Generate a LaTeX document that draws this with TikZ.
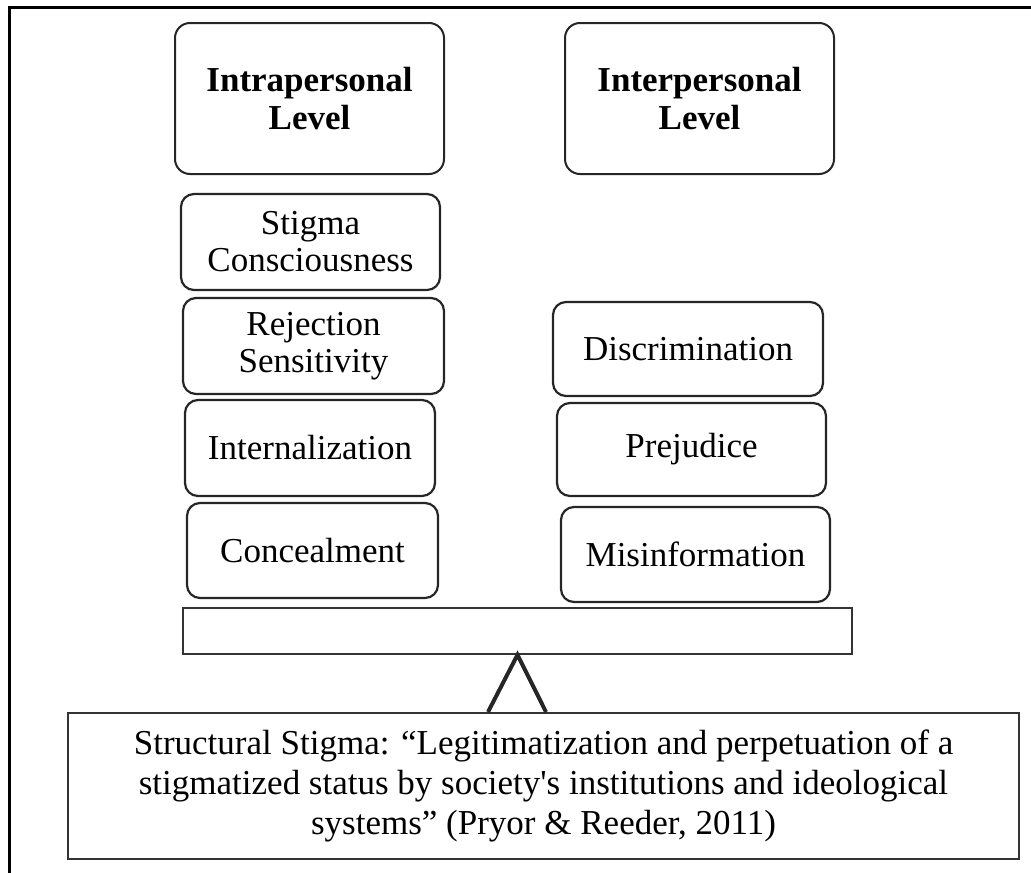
\documentclass[tikz,border=0pt]{standalone}
\usepackage{fontspec}
\setmainfont{Liberation Serif}
\begin{document}
\begin{tikzpicture}[x=1pt,y=-1pt,
  lvlbox/.style={draw=black!85, line width=2pt, rounded corners=15pt, inner sep=0pt, align=center,
    font=\fontsize{35}{38}\selectfont\bfseries},
  itembox/.style={draw=black!85, line width=2.2pt, rounded corners=13pt, inner sep=0pt, align=center,
    font=\fontsize{35}{37}\selectfont},
  plankbox/.style={draw=black!80, line width=1.6pt, inner sep=0pt},
  basebox/.style={draw=black!80, line width=1.6pt, inner sep=0pt, align=center,
    font=\fontsize{35}{40}\selectfont},
  frameline/.style={line width=3pt, black},
  fulcrum/.style={line width=4pt, black!85, line join=miter}
]
\useasboundingbox (0,0) rectangle (1031,873);
\draw[frameline] (9,873) -- (9,7) -- (1031,7);

\node[lvlbox, minimum width=269pt, minimum height=151pt] (intra) at (309.5,98.5) {Intrapersonal\\Level};
\node[lvlbox, minimum width=269pt, minimum height=151pt] (inter) at (699.5,98.5) {Interpersonal\\Level};

\node[itembox, minimum width=259pt, minimum height=96pt] (stig) at (310.5,242) {Stigma\\Consciousness};
\node[itembox, minimum width=261pt, minimum height=96pt] (rej) at (313.5,346) {Rejection\\Sensitivity};
\node[itembox, minimum width=250pt, minimum height=96pt] (intern) at (310,448) {Internalization};
\node[itembox, minimum width=251pt, minimum height=95pt] (conc) at (312.5,550.5) {Concealment};

\node[itembox, minimum width=270pt, minimum height=94pt] (disc) at (688,349) {Discrimination};
\node[itembox, minimum width=269pt, minimum height=93pt] (prej) at (691.5,449.5) {Prejudice};
\node[itembox, minimum width=269pt, minimum height=95pt] (misi) at (695.5,554.5) {Misinformation};

\node[plankbox, minimum width=669pt, minimum height=46pt] (plank) at (517.5,631) {};

\node[basebox, minimum width=951pt, minimum height=146pt] (base) at (543.5,786)
  {Structural Stigma: “Legitimatization and perpetuation of a\\
   stigmatized status by society\textquotesingle s institutions and ideological\\
   systems” (Pryor \& Reeder, 2011)};

\coordinate (lf) at (488,712);
\coordinate (rf) at (546,712);
\draw[fulcrum] (lf) -- (plank.south) -- (rf);
\end{tikzpicture}
\end{document}
